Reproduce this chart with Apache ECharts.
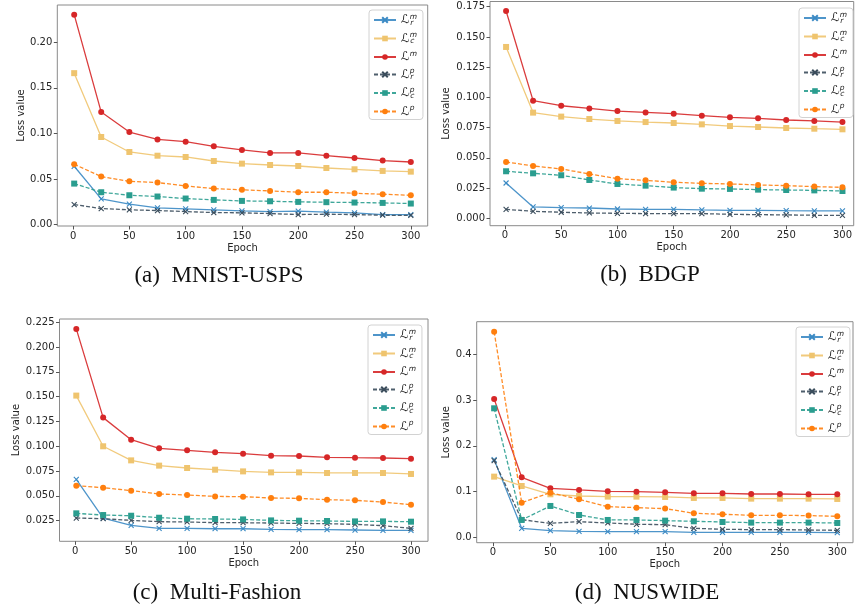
<!DOCTYPE html>
<html>
<head>
<meta charset="utf-8">
<script src="https://cdn.jsdelivr.net/npm/echarts@6/dist/echarts.min.js"></script>
<style>
html,body{margin:0;padding:0;background:#fff;}
#chart{width:855px;height:611px;}
</style>
</head>
<body>
<div id="chart"></div>
<script>
// ---------- data ----------
const epochs = [1, 25, 50, 75, 100, 125, 150, 175, 200, 225, 250, 275, 300];
const xTicks = [0, 50, 100, 150, 200, 250, 300];

// (a) MNIST-USPS
const mnist_Lrm = [0.0639, 0.0281, 0.0223, 0.0182, 0.0172, 0.0161, 0.0150, 0.0142, 0.0146, 0.0135, 0.0128, 0.0109, 0.0109];
const mnist_Lcm = [0.1661, 0.0960, 0.0796, 0.0755, 0.0741, 0.0697, 0.0668, 0.0653, 0.0642, 0.0620, 0.0606, 0.0588, 0.0580];
const mnist_Lm  = [0.2303, 0.1234, 0.1015, 0.0934, 0.0909, 0.0858, 0.0818, 0.0785, 0.0785, 0.0755, 0.0730, 0.0701, 0.0686];
const mnist_Lrp = [0.0219, 0.0175, 0.0161, 0.0153, 0.0142, 0.0131, 0.0128, 0.0120, 0.0109, 0.0113, 0.0109, 0.0102, 0.0099];
const mnist_Lcp = [0.0449, 0.0354, 0.0321, 0.0307, 0.0285, 0.0270, 0.0259, 0.0255, 0.0248, 0.0245, 0.0241, 0.0237, 0.0230];
const mnist_Lp  = [0.0661, 0.0526, 0.0474, 0.0460, 0.0423, 0.0394, 0.0380, 0.0369, 0.0354, 0.0354, 0.0343, 0.0332, 0.0321];
const mnist_yTicks = [0, 0.05, 0.10, 0.15, 0.20];

// (b) BDGP
const bdgp_Lrm = [0.0292, 0.0094, 0.0088, 0.0085, 0.0077, 0.0074, 0.0074, 0.0069, 0.0066, 0.0066, 0.0063, 0.0061, 0.0061];
const bdgp_Lcm = [0.1417, 0.0874, 0.0841, 0.0821, 0.0805, 0.0796, 0.0788, 0.0777, 0.0763, 0.0755, 0.0747, 0.0741, 0.0736];
const bdgp_Lm  = [0.1714, 0.0973, 0.0931, 0.0909, 0.0887, 0.0876, 0.0865, 0.0849, 0.0835, 0.0827, 0.0813, 0.0805, 0.0796];
const bdgp_Lrp = [0.0074, 0.0058, 0.0050, 0.0044, 0.0041, 0.0039, 0.0039, 0.0039, 0.0033, 0.0030, 0.0028, 0.0025, 0.0025];
const bdgp_Lcp = [0.0389, 0.0372, 0.0356, 0.0317, 0.0284, 0.0270, 0.0254, 0.0245, 0.0243, 0.0237, 0.0234, 0.0231, 0.0226];
const bdgp_Lp  = [0.0466, 0.0433, 0.0408, 0.0367, 0.0328, 0.0314, 0.0298, 0.0289, 0.0284, 0.0276, 0.0270, 0.0262, 0.0256];
const bdgp_yTicks = [0, 0.025, 0.05, 0.075, 0.10, 0.125, 0.15, 0.175];

// (c) Multi-Fashion
const fashion_Lrm = [0.0667, 0.0277, 0.0203, 0.0173, 0.0173, 0.0169, 0.0169, 0.0163, 0.0159, 0.0159, 0.0156, 0.0153, 0.0153];
const fashion_Lcm = [0.1511, 0.1000, 0.0858, 0.0805, 0.0781, 0.0764, 0.0747, 0.0737, 0.0737, 0.0731, 0.0731, 0.0731, 0.0721];
const fashion_Lm  = [0.2183, 0.1289, 0.1067, 0.0979, 0.0959, 0.0939, 0.0926, 0.0905, 0.0902, 0.0889, 0.0885, 0.0882, 0.0875];
const fashion_Lrp = [0.0277, 0.0270, 0.0253, 0.0240, 0.0237, 0.0230, 0.0230, 0.0226, 0.0223, 0.0220, 0.0213, 0.0200, 0.0173];
const fashion_Lcp = [0.0324, 0.0307, 0.0300, 0.0280, 0.0270, 0.0267, 0.0263, 0.0253, 0.0250, 0.0247, 0.0243, 0.0243, 0.0240];
const fashion_Lp  = [0.0603, 0.0583, 0.0553, 0.0519, 0.0509, 0.0495, 0.0492, 0.0479, 0.0475, 0.0462, 0.0455, 0.0438, 0.0411];
const fashion_yTicks = [0.025, 0.05, 0.075, 0.10, 0.125, 0.15, 0.175, 0.20, 0.225];

// (d) NUSWIDE
const nus_Lrm = [0.1698, 0.0197, 0.0146, 0.0131, 0.0124, 0.0124, 0.0124, 0.0109, 0.0109, 0.0109, 0.0109, 0.0109, 0.0102];
const nus_Lcm = [0.1326, 0.1122, 0.0940, 0.0903, 0.0889, 0.0889, 0.0882, 0.0860, 0.0860, 0.0845, 0.0845, 0.0845, 0.0838];
const nus_Lm  = [0.3024, 0.1311, 0.1071, 0.1035, 0.1005, 0.0998, 0.0984, 0.0962, 0.0962, 0.0947, 0.0947, 0.0940, 0.0940];
const nus_Lrp = [0.1676, 0.0386, 0.0306, 0.0342, 0.0313, 0.0284, 0.0277, 0.0197, 0.0175, 0.0168, 0.0168, 0.0160, 0.0153];
const nus_Lcp = [0.2820, 0.0379, 0.0685, 0.0488, 0.0379, 0.0379, 0.0364, 0.0350, 0.0335, 0.0321, 0.0321, 0.0321, 0.0313];
const nus_Lp  = [0.4495, 0.0758, 0.0976, 0.0831, 0.0670, 0.0648, 0.0627, 0.0525, 0.0503, 0.0481, 0.0481, 0.0474, 0.0459];
const nus_yTicks = [0, 0.1, 0.2, 0.3, 0.4];

const captions = ['(a)  MNIST-USPS', '(b)  BDGP', '(c)  Multi-Fashion', '(d)  NUSWIDE'];
const seriesKeys = ['Lrm', 'Lcm', 'Lm', 'Lrp', 'Lcp', 'Lp'];

// ---------- styling / layout ----------
const XSYM = 'path://M0,0L10,10M10,0L0,10';
const styles = {
  Lrm: {color: '#3b8ac4', symbol: XSYM, size: 5, dash: 'solid', bw: 1.1},
  Lcm: {color: '#efc46e', symbol: 'rect', size: 6, dash: 'solid', bw: 0},
  Lm:  {color: '#d62728', symbol: 'circle', size: 6, dash: 'solid', bw: 0},
  Lrp: {color: '#3b4d5c', symbol: XSYM, size: 5, dash: [4, 2], bw: 1.1},
  Lcp: {color: '#2a9d8f', symbol: 'rect', size: 6, dash: [4, 2], bw: 0},
  Lp:  {color: '#ff7f0e', symbol: 'circle', size: 6, dash: [4, 2], bw: 0}
};
const legendText = {
  Lrm: '{L|ℒ}{sp|m}{sb|r}',
  Lcm: '{L|ℒ}{sp|m}{sb|c}',
  Lm:  '{L|ℒ}{sp|m}',
  Lrp: '{L|ℒ}{sp|p}{sb|r}',
  Lcp: '{L|ℒ}{sp|p}{sb|c}',
  Lp:  '{L|ℒ}{sp|p}'
};

const panels = [
  {id: 'a', data: [mnist_Lrm, mnist_Lcm, mnist_Lm, mnist_Lrp, mnist_Lcp, mnist_Lp], yTicks: mnist_yTicks, dec: 2,
   grid: {left: 57.3, top: 5, width: 370.4, height: 221}, x: [-14, 315], y: [-0.00165, 0.2409], yGap: 31,
   legend: {left: 369, top: 10}, cap: [219, 276]},
  {id: 'b', data: [bdgp_Lrm, bdgp_Lcm, bdgp_Lm, bdgp_Lrp, bdgp_Lcp, bdgp_Lp], yTicks: bdgp_yTicks, dec: 3,
   grid: {left: 490, top: 1.5, width: 364, height: 224.2}, x: [-13.3, 310], y: [-0.00612, 0.1793], yGap: 39,
   legend: {left: 799, top: 8}, cap: [650, 275]},
  {id: 'c', data: [fashion_Lrm, fashion_Lcm, fashion_Lm, fashion_Lrp, fashion_Lcp, fashion_Lp], yTicks: fashion_yTicks, dec: 3,
   grid: {left: 59.5, top: 319, width: 368.5, height: 222.3}, x: [-14, 315.2], y: [0.00423, 0.2283], yGap: 38.5,
   legend: {left: 368, top: 325}, cap: [217, 593]},
  {id: 'd', data: [nus_Lrm, nus_Lcm, nus_Lm, nus_Lrp, nus_Lcp, nus_Lp], yTicks: nus_yTicks, dec: 1,
   grid: {left: 476.7, top: 321.7, width: 376.3, height: 221}, x: [-14.2, 313.7], y: [-0.0118, 0.4713], yGap: 25,
   legend: {left: 796, top: 327}, cap: [647, 593]}
];

const tickFont = {fontFamily: 'DejaVu Sans', fontSize: 10, color: '#262626'};
const option = {animation: false, backgroundColor: '#fff', grid: [], xAxis: [], yAxis: [], series: [], legend: [], graphic: []};

panels.forEach((p, i) => {
  option.grid.push(Object.assign({show: true, borderColor: '#8a8a8a', borderWidth: 1, backgroundColor: 'transparent'}, p.grid));
  option.xAxis.push({
    type: 'value', gridIndex: i, min: p.x[0], max: p.x[1], position: 'bottom',
    name: 'Epoch', nameLocation: 'middle', nameGap: 17,
    nameTextStyle: {fontFamily: 'DejaVu Sans', fontSize: 10, color: '#262626'},
    axisLine: {show: false, onZero: false}, splitLine: {show: false},
    axisTick: {show: true, length: 3.5, lineStyle: {color: '#555'}, customValues: xTicks},
    axisLabel: Object.assign({margin: 5, customValues: xTicks, formatter: v => String(v)}, tickFont)
  });
  option.yAxis.push({
    type: 'value', gridIndex: i, min: p.y[0], max: p.y[1], position: 'left',
    name: 'Loss value', nameLocation: 'middle', nameGap: p.yGap,
    nameTextStyle: {fontFamily: 'DejaVu Sans', fontSize: 10, color: '#262626'},
    axisLine: {show: false, onZero: false}, splitLine: {show: false},
    axisTick: {show: true, length: 3.5, lineStyle: {color: '#555'}, customValues: p.yTicks},
    axisLabel: Object.assign({margin: 5, customValues: p.yTicks, formatter: v => v.toFixed(p.dec)}, tickFont)
  });
  const names = [];
  seriesKeys.forEach((k, j) => {
    const s = styles[k];
    const name = p.id + ':' + k;
    names.push(name);
    option.series.push({
      type: 'line', name: name, xAxisIndex: i, yAxisIndex: i,
      data: epochs.map((e, n) => [e, p.data[j][n]]),
      symbol: s.symbol, symbolSize: s.size, showSymbol: true,
      lineStyle: {color: s.color, width: 1.3, type: s.dash, opacity: 0.9},
      itemStyle: {color: s.color, borderColor: s.color, borderWidth: s.bw},
      z: 2 + j
    });
  });
  option.legend.push({
    data: names, orient: 'vertical', left: p.legend.left, top: p.legend.top,
    padding: [3, 6, 2, 4], itemGap: 4.5, itemWidth: 22, itemHeight: 7,
    borderColor: '#d2d2d2', borderWidth: 1, borderRadius: 3, backgroundColor: 'rgba(255,255,255,0.85)',
    selectedMode: false,
    formatter: n => legendText[n.split(':')[1]],
    textStyle: {
      color: '#222',
      rich: {
        L: {fontFamily: 'DejaVu Sans', fontSize: 12, lineHeight: 14, fontStyle: 'italic', color: '#222'},
        sp: {fontFamily: 'DejaVu Sans', fontSize: 7.5, lineHeight: 8, fontStyle: 'italic', verticalAlign: 'top', width: 0.5, color: '#222'},
        sb: {fontFamily: 'DejaVu Sans', fontSize: 7.5, lineHeight: 8, fontStyle: 'italic', verticalAlign: 'bottom', color: '#222'}
      }
    }
  });
  option.graphic.push({
    type: 'text', x: p.cap[0], y: p.cap[1],
    style: {text: captions[i], font: '23px "Liberation Serif"', fill: '#111', textAlign: 'center', textVerticalAlign: 'middle'}
  });
});

const chart = echarts.init(document.getElementById('chart'), null, {renderer: 'canvas'});
chart.setOption(option);
</script>
</body>
</html>
